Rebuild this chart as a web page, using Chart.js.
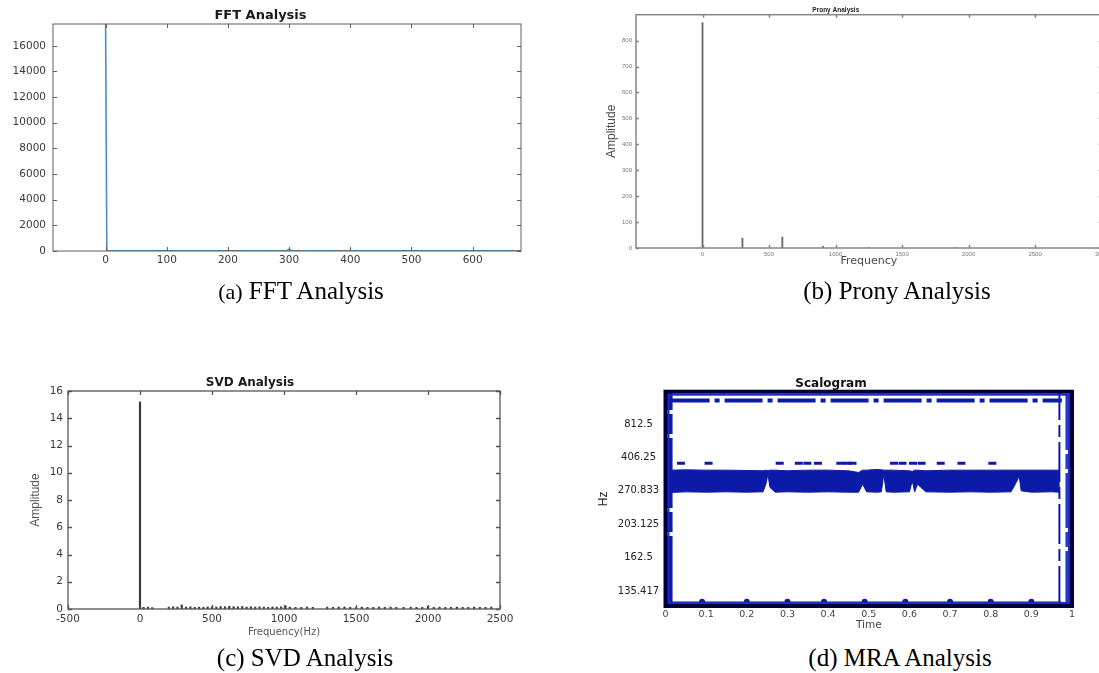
<!DOCTYPE html>
<html>
<head>
<meta charset="utf-8">
<title>FFT / Prony / SVD / MRA analysis</title>
<script src="https://cdn.jsdelivr.net/npm/chart.js@4/dist/chart.umd.min.js"></script>
<style>
  html, body { margin: 0; padding: 0; background: #fff; overflow: hidden; }
  body { width: 1099px; height: 673px; position: relative; }
  .panel { position: absolute; }
  .panel canvas { display: block; }
  .caption {
    position: absolute;
    font-family: "Liberation Serif", "Times New Roman", serif;
    font-size: 25px;
    color: #000;
    white-space: nowrap;
    line-height: 1;
    transform: translate(-50%, -50%);
  }
  .caption .tag { font-size: 22px; }
</style>
</head>
<body>

<div class="panel" style="left:0; top:0;"><canvas id="fftChart" width="540" height="290"></canvas></div>
<div class="panel" style="left:570px; top:0;"><canvas id="pronyChart" width="570" height="280"></canvas></div>
<div class="panel" style="left:0; top:330px;"><canvas id="svdChart" width="540" height="315"></canvas></div>
<div class="panel" style="left:590px; top:330px;"><canvas id="mraChart" width="509" height="310"></canvas></div>

<div class="caption" style="left:301px; top:290px;"><span class="tag">(a)</span> FFT Analysis</div>
<div class="caption" style="left:897px; top:290px;">(b) Prony Analysis</div>
<div class="caption" style="left:305px; top:657px;">(c) SVD Analysis</div>
<div class="caption" style="left:900px; top:657px;">(d) MRA Analysis</div>

<script>
// ---- data ----

// (a) FFT
var fftFreq = [0, 2, 6, 296, 300, 304, 679];
var fftAmp = [17700, 25, 25, 25, 140, 25, 25];
var fftXTicks = [0, 100, 200, 300, 400, 500, 600];
var fftYTicks = [0, 2000, 4000, 6000, 8000, 10000, 12000, 14000, 16000];

// (b) Prony
var pronyFreq = [0, 300, 600, 905, 1250, 1900];
var pronyAmp = [870, 37, 42, 6, 2, 2];
var pronyXTicks = [0, 500, 1000, 1500, 2000, 2500, 3000];
var pronyYTicks = [0, 100, 200, 300, 400, 500, 600, 700, 800];

// (c) SVD
var svdFreq = [0, 25, 55, 85, 200, 230, 260, 290, 320, 350, 380, 410, 440, 470, 500,
  530, 560, 590, 620, 650, 680, 710, 740, 770, 800, 830, 860, 890, 920, 950,
  980, 1010, 1040, 1080, 1120, 1160, 1200, 1300, 1340, 1380, 1420, 1460, 1500, 1540,
  1580, 1620, 1660, 1700, 1740, 1780, 1830, 1880, 1920, 1960, 2000, 2040, 2080,
  2120, 2160, 2200, 2240, 2280, 2320, 2360, 2400, 2440];
var svdAmp = [15.2, 0.12, 0.14, 0.1, 0.14, 0.16, 0.14, 0.3, 0.14, 0.16, 0.12, 0.14, 0.12, 0.15, 0.16,
  0.14, 0.18, 0.16, 0.2, 0.17, 0.16, 0.18, 0.14, 0.16, 0.14, 0.16, 0.14, 0.12, 0.15, 0.14,
  0.16, 0.24, 0.14, 0.12, 0.12, 0.14, 0.12, 0.14, 0.12, 0.14, 0.15, 0.12, 0.12, 0.14,
  0.12, 0.12, 0.14, 0.12, 0.14, 0.12, 0.12, 0.14, 0.12, 0.12, 0.2, 0.12, 0.14,
  0.12, 0.12, 0.14, 0.12, 0.12, 0.14, 0.12, 0.12, 0.14];
var svdXTicks = [-500, 0, 500, 1000, 1500, 2000, 2500];
var svdYTicks = [0, 2, 4, 6, 8, 10, 12, 14, 16];

// (d) MRA scalogram (y in scale-index units, labelled with frequencies)
var mraFreqLabels = ['135.417', '162.5', '203.125', '270.833', '406.25', '812.5'];
var mraYTicks = [0, 1, 2, 3, 4, 5];
var mraXTicks = [0, 0.1, 0.2, 0.3, 0.4, 0.5, 0.6, 0.7, 0.8, 0.9, 1];
var mraTime = [0.013, 0.05, 0.10, 0.15, 0.20, 0.24, 0.247, 0.252, 0.257, 0.27, 0.30, 0.35,
  0.40, 0.45, 0.475, 0.485, 0.495, 0.52, 0.531, 0.537, 0.543, 0.56, 0.60, 0.607, 0.613,
  0.62, 0.64, 0.70, 0.75, 0.80, 0.85, 0.865, 0.870, 0.875, 0.90, 0.95, 0.97];
var mraBandLow = [2.95, 2.97, 2.96, 2.97, 2.96, 2.97, 3.2, 3.5, 3.1, 2.96, 2.97, 2.96,
  2.97, 2.96, 2.96, 3.2, 2.97, 2.96, 2.97, 3.5, 2.97, 2.96, 2.97, 3.3, 2.97,
  3.2, 2.97, 2.96, 2.97, 2.96, 2.97, 3.3, 3.45, 3.0, 2.96, 2.97, 2.96];
var mraBandHigh = [3.62, 3.63, 3.62, 3.62, 3.61, 3.60, 3.62, 3.6, 3.62, 3.62, 3.6, 3.62,
  3.62, 3.6, 3.55, 3.62, 3.62, 3.64, 3.63, 3.62, 3.62, 3.62, 3.6, 3.58, 3.62,
  3.62, 3.6, 3.62, 3.62, 3.62, 3.62, 3.62, 3.62, 3.62, 3.62, 3.62, 3.62];
var mraHoleTime = [0.285, 0.49];
var mraHoleLevel = [3.38, 3.52];
var mraDashTime = [0.038, 0.106, 0.281, 0.328, 0.349, 0.375, 0.43, 0.447, 0.46,
  0.562, 0.583, 0.609, 0.63, 0.677, 0.728, 0.804];
var mraDashLevel = 3.83;
var mraTopSpan = [0.015, 0.975];
var mraTopLevel = 5.71;
var mraBottomLevel = -0.36;
var mraBumpTime = [0.09, 0.2, 0.3, 0.39, 0.49, 0.59, 0.7, 0.8, 0.9];
var mraEdgeSpan = [-0.45, 5.97];
var mraLeftEdge = 0.01;
var mraRightEdges = [0.969, 0.99];

// ---- helpers ----
Chart.defaults.font.family = '"DejaVu Sans", sans-serif';
Chart.defaults.animation = false;
Chart.defaults.events = [];
Chart.defaults.plugins.legend.display = false;
Chart.defaults.plugins.tooltip.enabled = false;

function pairs(xs, ys) {
    return xs.map(function(x, i) { return { x: x, y: ys[i] }; });
}
function fixedTicks(list) {
    return function(scale) {
        scale.ticks = list.map(function(v) { return { value: v }; });
    };
}
function fixedWidth(w) { return function(scale) { scale.width = w; }; }
function fixedHeight(h) { return function(scale) { scale.height = h; }; }
// plain numbers, no thousands separator
function plainLabel(value) { return String(value); }

// box around the plot with MATLAB-style inward ticks
var framePlugin = {
    id: 'frame',
    afterDatasetsDraw: function(chart, args, opts) {
        if (!opts || !opts.color) return;
        var a = chart.chartArea;
        var ctx = chart.ctx;
        var xs = chart.scales.x, ys = chart.scales.y;
        ctx.save();
        if (opts.inner) {
            ctx.strokeStyle = opts.inner;
            ctx.lineWidth = 2;
            ctx.strokeRect(a.left + 3, a.top + 3, a.right - a.left - 6, a.bottom - a.top - 6);
        }
        ctx.strokeStyle = opts.color;
        ctx.lineWidth = opts.width;
        if (opts.tick) {
            ctx.beginPath();
            xs.ticks.forEach(function(t) {
                var px = Math.round(xs.getPixelForValue(t.value)) + 0.5;
                ctx.moveTo(px, a.bottom); ctx.lineTo(px, a.bottom - opts.tick);
                ctx.moveTo(px, a.top); ctx.lineTo(px, a.top + opts.tick);
            });
            ys.ticks.forEach(function(t) {
                var py = Math.round(ys.getPixelForValue(t.value)) + 0.5;
                ctx.moveTo(a.left, py); ctx.lineTo(a.left + opts.tick, py);
                ctx.moveTo(a.right, py); ctx.lineTo(a.right - opts.tick, py);
            });
            ctx.stroke();
        }
        ctx.strokeRect(a.left, a.top, a.right - a.left, a.bottom - a.top);
        ctx.restore();
    }
};
Chart.register(framePlugin);

function plainGrid() {
    return { display: false, drawTicks: false };
}

// ---- (a) FFT Analysis ----
new Chart(document.getElementById('fftChart'), {
    type: 'line',
    data: {
        datasets: [{
            data: pairs(fftFreq, fftAmp),
            borderColor: '#4a8fc2',
            borderWidth: 1.6,
            pointRadius: 0,
            tension: 0
        }]
    },
    options: {
        responsive: false,
        devicePixelRatio: 1,
        layout: { padding: { left: 0, right: 19, top: 0, bottom: 0 } },
        plugins: {
            title: {
                display: true, text: 'FFT Analysis', color: '#1a1a1a',
                font: { size: 13, weight: 'bold' },
                padding: { top: 7.9, bottom: 0.5 }
            },
            frame: { color: '#5f5f5f', width: 1, tick: 4 }
        },
        scales: {
            x: {
                type: 'linear', min: -86, max: 679,
                grid: plainGrid(), border: { display: false },
                afterBuildTicks: fixedTicks(fftXTicks),
                afterFit: fixedHeight(39),
                ticks: { color: '#3a3a3a', font: { size: 10.5 }, padding: 2.7, maxRotation: 0, callback: plainLabel }
            },
            y: {
                type: 'linear', min: 0, max: 17700,
                grid: plainGrid(), border: { display: false },
                afterBuildTicks: fixedTicks(fftYTicks),
                afterFit: fixedWidth(53),
                ticks: { color: '#3a3a3a', font: { size: 10.5 }, padding: 7, callback: plainLabel }
            }
        }
    }
});

// ---- (b) Prony Analysis ----
new Chart(document.getElementById('pronyChart'), {
    type: 'bar',
    data: {
        datasets: [{
            data: pairs(pronyFreq, pronyAmp),
            backgroundColor: '#6a6a6a',
            barThickness: 1.2
        }]
    },
    options: {
        responsive: false,
        devicePixelRatio: 1,
        layout: { padding: { left: 0, right: 38.4, top: 0, bottom: 0 } },
        plugins: {
            title: {
                display: true, text: 'Prony Analysis', color: '#222',
                font: { family: '"Liberation Sans", Arial, sans-serif', size: 6.5, weight: 'bold' },
                padding: { top: 6.1, bottom: 0.8 }
            },
            frame: { color: '#858585', width: 1.5, tick: 3 }
        },
        scales: {
            x: {
                type: 'linear', min: -500, max: 3000, offset: false,
                grid: plainGrid(), border: { display: false },
                afterBuildTicks: fixedTicks(pronyXTicks),
                afterFit: fixedHeight(32),
                ticks: { color: '#777', font: { family: '"Liberation Sans", Arial, sans-serif', size: 6 }, padding: 2.4, maxRotation: 0, callback: plainLabel },
                title: {
                    display: true, text: 'Frequency', color: '#4a4a4a',
                    font: { size: 11 },
                    padding: { top: 0, bottom: 12.4 }
                }
            },
            y: {
                type: 'linear', min: 0, max: 900,
                grid: plainGrid(), border: { display: false },
                afterBuildTicks: fixedTicks(pronyYTicks),
                afterFit: fixedWidth(66),
                ticks: { color: '#777', font: { family: '"Liberation Sans", Arial, sans-serif', size: 6 }, padding: 4, callback: plainLabel },
                title: {
                    display: true, text: 'Amplitude', color: '#4a4a4a',
                    font: { family: '"Liberation Sans Narrow", "Liberation Sans", sans-serif', size: 12 },
                    padding: { top: 34.8, bottom: 0 }
                }
            }
        }
    }
});

// ---- (c) SVD Analysis ----
new Chart(document.getElementById('svdChart'), {
    type: 'bar',
    data: {
        datasets: [{
            data: pairs(svdFreq, svdAmp),
            backgroundColor: '#3a3a3a',
            barThickness: 1.5
        }]
    },
    options: {
        responsive: false,
        devicePixelRatio: 1,
        layout: { padding: { left: 0, right: 40, top: 0, bottom: 0 } },
        plugins: {
            title: {
                display: true, text: 'SVD Analysis', color: '#1a1a1a',
                font: { size: 12, weight: 'bold' },
                padding: { top: 45.8, bottom: 0.8 }
            },
            frame: { color: '#555', width: 1.3, tick: 4 }
        },
        scales: {
            x: {
                type: 'linear', min: -500, max: 2500, offset: false,
                grid: plainGrid(), border: { display: false },
                afterBuildTicks: fixedTicks(svdXTicks),
                afterFit: fixedHeight(36),
                ticks: { color: '#3a3a3a', font: { size: 10.5 }, padding: 3.7, maxRotation: 0, callback: plainLabel },
                title: {
                    display: true, text: 'Frequency(Hz)', color: '#555',
                    font: { size: 10 },
                    padding: { top: 0, bottom: 7 }
                }
            },
            y: {
                type: 'linear', min: 0, max: 16,
                grid: plainGrid(), border: { display: false },
                afterBuildTicks: fixedTicks(svdYTicks),
                afterFit: fixedWidth(68),
                ticks: { color: '#3a3a3a', font: { size: 10.5 }, padding: 5, callback: plainLabel },
                title: {
                    display: true, text: 'Amplitude', color: '#555',
                    font: { family: '"Liberation Sans Narrow", "Liberation Sans", sans-serif', size: 12 },
                    padding: { top: 28.8, bottom: 0 }
                }
            }
        }
    }
});

// ---- (d) MRA Analysis (scalogram) ----
var BAND = '#0c1aa8';
function level(xs, y) {
    return xs.map(function(x) { return { x: x, y: y }; });
}
function edge(x) {
    return [{ x: x, y: mraEdgeSpan[0] }, { x: x, y: mraEdgeSpan[1] }];
}

new Chart(document.getElementById('mraChart'), {
    type: 'scatter',
    data: {
        datasets: [
            { data: pairs(mraTime, mraBandLow), showLine: true, borderColor: BAND, borderWidth: 1, pointRadius: 0, fill: false },
            { data: pairs(mraTime, mraBandHigh), showLine: true, borderColor: BAND, borderWidth: 1, pointRadius: 0, fill: '-1', backgroundColor: BAND },
            { data: pairs(mraHoleTime, mraHoleLevel), pointStyle: 'rect', pointRadius: 5, pointBackgroundColor: '#fff', pointBorderWidth: 0 },
            { data: level(mraDashTime, mraDashLevel), pointStyle: 'line', pointRadius: 4, pointBorderColor: BAND, pointBorderWidth: 3 },
            { data: level(mraTopSpan, mraTopLevel), showLine: true, borderColor: BAND, borderWidth: 4, borderDash: [38, 5, 5, 5], pointRadius: 0 },
            { data: level(mraTopSpan, mraBottomLevel), showLine: true, borderColor: BAND, borderWidth: 3, pointRadius: 0 },
            { data: level(mraBumpTime, mraBottomLevel + 0.04), pointStyle: 'circle', pointRadius: 3, pointBackgroundColor: BAND, pointBorderWidth: 0 },
            { data: edge(mraLeftEdge), showLine: true, borderColor: BAND, borderWidth: 6, borderDash: [70, 4, 20, 4], pointRadius: 0 },
            { data: edge(mraRightEdges[0]), showLine: true, borderColor: BAND, borderWidth: 2, borderDash: [40, 5, 12, 5], pointRadius: 0 },
            { data: edge(mraRightEdges[1]), showLine: true, borderColor: '#1f3fd0', borderWidth: 5, borderDash: [55, 4, 15, 4], pointRadius: 0 }
        ]
    },
    options: {
        responsive: false,
        devicePixelRatio: 1,
        layout: { padding: { left: 0, right: 27, top: 0, bottom: 0 } },
        plugins: {
            title: {
                display: true, text: 'Scalogram', color: '#111',
                font: { size: 12, weight: 'bold' },
                padding: { top: 46.8, bottom: 0.5 }
            },
            frame: { color: '#00003a', width: 4, tick: 0, inner: '#1b2cc8' }
        },
        scales: {
            x: {
                type: 'linear', min: 0, max: 1,
                grid: plainGrid(), border: { display: false },
                afterBuildTicks: fixedTicks(mraXTicks),
                afterFit: fixedHeight(34),
                ticks: { color: '#444', font: { size: 9.5 }, padding: 3.3, maxRotation: 0, callback: plainLabel },
                title: {
                    display: true, text: 'Time', color: '#444',
                    font: { size: 10.5 },
                    padding: { top: 0, bottom: 8.7 }
                }
            },
            y: {
                type: 'linear', min: -0.45, max: 5.97,
                grid: plainGrid(), border: { display: false },
                afterBuildTicks: fixedTicks(mraYTicks),
                afterFit: fixedWidth(75.5),
                ticks: {
                    color: '#222', font: { size: 10 }, padding: 6.3, crossAlign: 'center',
                    callback: function(value) { return mraFreqLabels[value]; }
                },
                title: {
                    display: true, text: 'Hz', color: '#222',
                    font: { family: '"Liberation Sans", Arial, sans-serif', size: 12 },
                    padding: { top: 6.8, bottom: 0 }
                }
            }
        }
    }
});
</script>
</body>
</html>
